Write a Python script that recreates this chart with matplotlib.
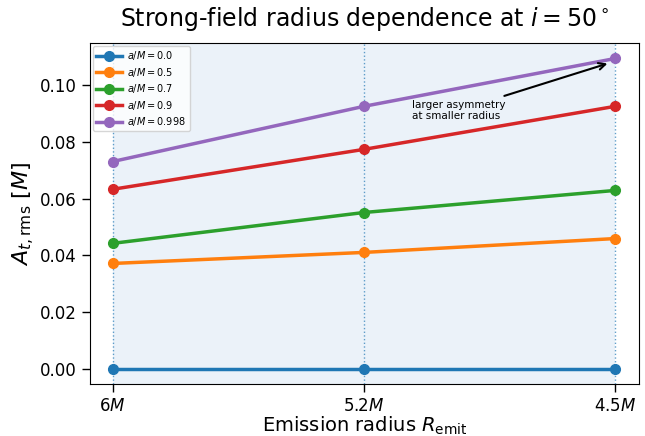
import numpy as np
import matplotlib.pyplot as plt

# Emission radii (ordered from large to small) and spin values
radii = ['6M', '5.2M', '4.5M']
radius_labels = [r'$6M$', r'$5.2M$', r'$4.5M$']
spins = ['0.0', '0.5', '0.7', '0.9', '0.998']

# A_t,rms [M] for each spin at each radius
a_00 = [0.0, 0.0, 0.0]
a_05 = [0.0371, 0.0410, 0.0459]
a_07 = [0.0442, 0.0551, 0.0629]
a_09 = [0.0633, 0.0774, 0.0926]
a_0998 = [0.0731, 0.0926, 0.1095]

series = [a_00, a_05, a_07, a_09, a_0998]


def main():
    fig, ax = plt.subplots(figsize=(6.45, 4.36), dpi=100)
    fig.subplots_adjust(left=90 / 645, right=639 / 645,
                        top=1 - 43 / 436, bottom=1 - 384 / 436)
    x = np.arange(len(radii))

    for s, vals in zip(spins, series):
        ax.plot(x, vals, marker='o', markersize=7, linewidth=2.5,
                label=rf'$a/M = {s}$')

    # shaded band over the sampled radius range
    ax.axvspan(x[0], x[-1], color='#dce9f5', alpha=0.55, zorder=0, lw=0)
    for xi in x:
        ax.axvline(xi, color='tab:blue', linestyle=':', linewidth=1,
                   alpha=0.7, zorder=0.5)
    ax.set_xlim(-0.09, len(radii) - 1 + 0.095)

    ax.annotate('larger asymmetry\nat smaller radius',
                xy=(1.98, 0.108), xytext=(1.19, 0.0912),
                fontsize=7.5, ha='left', va='center',
                arrowprops=dict(arrowstyle='->', color='black', lw=1.5,
                                mutation_scale=12))

    ax.set_xticks(x)
    ax.set_xticklabels(radius_labels, fontsize=12)
    ax.tick_params(axis='y', labelsize=12)
    ax.tick_params(length=6, width=1)
    ax.tick_params(axis='x', pad=3)
    ax.set_xlabel(r'Emission radius $R_{\rm emit}$', fontsize=14,
                  labelpad=0)
    ax.set_ylabel(r'$A_{t,\rm rms}$ $[M]$', fontsize=16, labelpad=2)
    ax.set_title(r'Strong-field radius dependence at $i=50^\circ$',
                 fontsize=17, pad=12)
    ax.legend(loc='upper left', fontsize=7, labelspacing=0.35,
              handlelength=2.6, handletextpad=0.6, borderpad=0.35,
              borderaxespad=0.3)

    plt.savefig('out.png', dpi=100)


if __name__ == '__main__':
    main()
